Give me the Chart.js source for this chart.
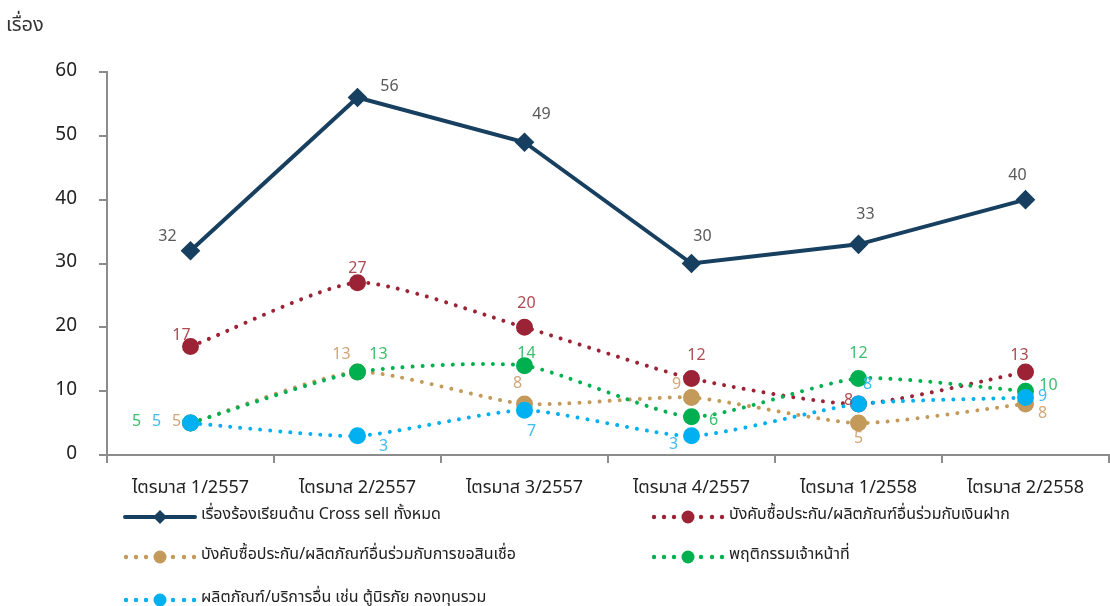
<!DOCTYPE html>
<html><head><meta charset="utf-8">
<script src="https://cdn.jsdelivr.net/npm/chart.js@4"></script>
<style>html,body{margin:0;padding:0;background:#fff}#wrap{position:relative;width:1110px;height:606px}</style>
</head><body><div id="wrap"><canvas id="c" width="1110" height="606"></canvas></div>
<script>
const categories = ['ไตรมาส 1/2557','ไตรมาส 2/2557','ไตรมาส 3/2557','ไตรมาส 4/2557','ไตรมาส 1/2558','ไตรมาส 2/2558'];
const seriesNames = ['เรื่องร้องเรียนด้าน Cross sell ทั้งหมด','บังคับซื้อประกัน/ผลิตภัณฑ์อื่นร่วมกับเงินฝาก','บังคับซื้อประกัน/ผลิตภัณฑ์อื่นร่วมกับการขอสินเชื่อ','พฤติกรรมเจ้าหน้าที่','ผลิตภัณฑ์/บริการอื่น เช่น ตู้นิรภัย กองทุนรวม'];
const totalCrossSell = [32,56,49,30,33,40];
const depositTied = [17,27,20,12,8,13];
const loanTied = [5,13,8,9,5,8];
const staffConduct = [5,13,14,6,12,10];
const otherProducts = [5,3,7,3,8,9];
const yTicks = [0,10,20,30,40,50,60];
const yTitle = 'เรื่อง';

const FONT = "'Noto Sans Thai','Tahoma','Liberation Sans','Noto Sans',sans-serif";
// label offsets (styling)
const labelOffsets = [
  [[-23,-13],[32,-10],[17,-26],[11,-26],[7,-29],[-8,-23]],
  [[-9,-10],[0,-13],[2,-23],[5,-22],[-10,-2],[-6,-15]],
  [[-14,0],[-16,-16],[-7,-19],[-15,-12],[0,17],[17,11]],
  [[-54,0],[21,-16],[2,-11],[22,5],[0,-24],[23,-4]],
  [[-34,0],[26,12],[7,22],[-18,10],[9,-18],[17,0]]
];
const labelColors = ['#595959','#B04A52','#D2A677','#3DBE6B','#3DBCEF'];

const labelPlugin = {
  id:'vlabels',
  afterDatasetsDraw(chart){
    const ctx=chart.ctx; ctx.save();
    ctx.font = '16px '+FONT; ctx.textAlign='center'; ctx.textBaseline='middle';
    chart.data.datasets.forEach((ds,i)=>{
      const meta=chart.getDatasetMeta(i);
      meta.data.forEach((pt,j)=>{
        const o=labelOffsets[i][j];
        ctx.fillStyle=labelColors[i];
        ctx.fillText(String(ds.data[j]), pt.x+o[0], pt.y+o[1]);
      });
    });
    ctx.fillStyle='#333'; ctx.font='20px '+FONT; ctx.textAlign='left';
    ctx.fillText(yTitle, 6, 27);
    ctx.restore();
  }
};

const legendPlugin = {
  id:'customLegend',
  afterDraw(chart){
    const ctx=chart.ctx; ctx.save();
    const slots=[[125,517],[653,517],[125,557],[653,557],[125,600]];
    chart.data.datasets.forEach((ds,i)=>{
      const [x,y]=slots[i];
      const w=70, mx=x+35;
      ctx.strokeStyle=ds.borderColor; ctx.fillStyle=ds.borderColor;
      if(i===0){
        ctx.lineWidth=4; ctx.lineCap='round'; ctx.beginPath(); ctx.moveTo(x,y); ctx.lineTo(x+w,y); ctx.stroke();
        ctx.beginPath(); ctx.moveTo(mx,y-7); ctx.lineTo(mx+7,y); ctx.lineTo(mx,y+7); ctx.lineTo(mx-7,y); ctx.closePath(); ctx.fill();
      } else {
        [0,10,20,47,58,68].forEach(dx=>{ctx.beginPath();ctx.arc(x+dx+1,y,2.2,0,Math.PI*2);ctx.fill();});
        ctx.beginPath(); ctx.arc(mx,y,6.5,0,Math.PI*2); ctx.fill();
      }
      ctx.fillStyle='#222'; ctx.font='16px '+FONT; ctx.textAlign='left'; ctx.textBaseline='middle';
      ctx.fillText(seriesNames[i], x+w+6, y-1);
    });
    ctx.restore();
  }
};

const colors=['#173F5F','#9B2335','#C49A5A','#00B050','#00B0F0'];
const dataArrays=[totalCrossSell,depositTied,loanTied,staffConduct,otherProducts];
const orders=[0,4,3,2,1];
const datasets=dataArrays.map((d,i)=>({
  label:seriesNames[i], data:d, borderColor:colors[i], backgroundColor:colors[i],
  pointBackgroundColor:colors[i], pointBorderColor:colors[i],
  borderWidth: 4,
  borderDash: i===0?[]:[0.01,10],
  borderCapStyle:'round',
  pointStyle: i===0?'rectRot':'circle',
  pointRadius: i===0?7:6.5, pointHoverRadius: i===0?7:6.5,
  tension: i===0?0:0.2,
  order: orders[i], fill:false
}));

new Chart(document.getElementById('c'),{
  type:'line',
  data:{labels:categories,datasets},
  options:{
    responsive:false, animation:false,
    layout:{autoPadding:false,padding:{top:72,right:1,bottom:0,left:0}},
    plugins:{legend:{display:false},tooltip:{enabled:false}},
    scales:{
      x:{
        offset:true,
        grid:{display:true,drawOnChartArea:false,offset:true,tickLength:8,color:'#8c8c8c',lineWidth:2},
        border:{display:true,color:'#8c8c8c',width:2},
        ticks:{color:'#222',font:{size:18,family:FONT},padding:16,maxRotation:0},
        afterFit(s){s.height=151; s.paddingLeft=0; s.paddingRight=0;}
      },
      y:{
        min:0,max:60,
        afterBuildTicks(s){s.ticks=yTicks.map(v=>({value:v}));},
        grid:{display:true,drawOnChartArea:false,tickLength:8,color:'#8c8c8c',lineWidth:2},
        border:{display:true,color:'#8c8c8c',width:2},
        ticks:{color:'#222',font:{size:19,family:FONT},padding:22},
        afterFit(s){s.width=107;}
      }
    }
  },
  plugins:[labelPlugin,legendPlugin]
});
</script></body></html>
